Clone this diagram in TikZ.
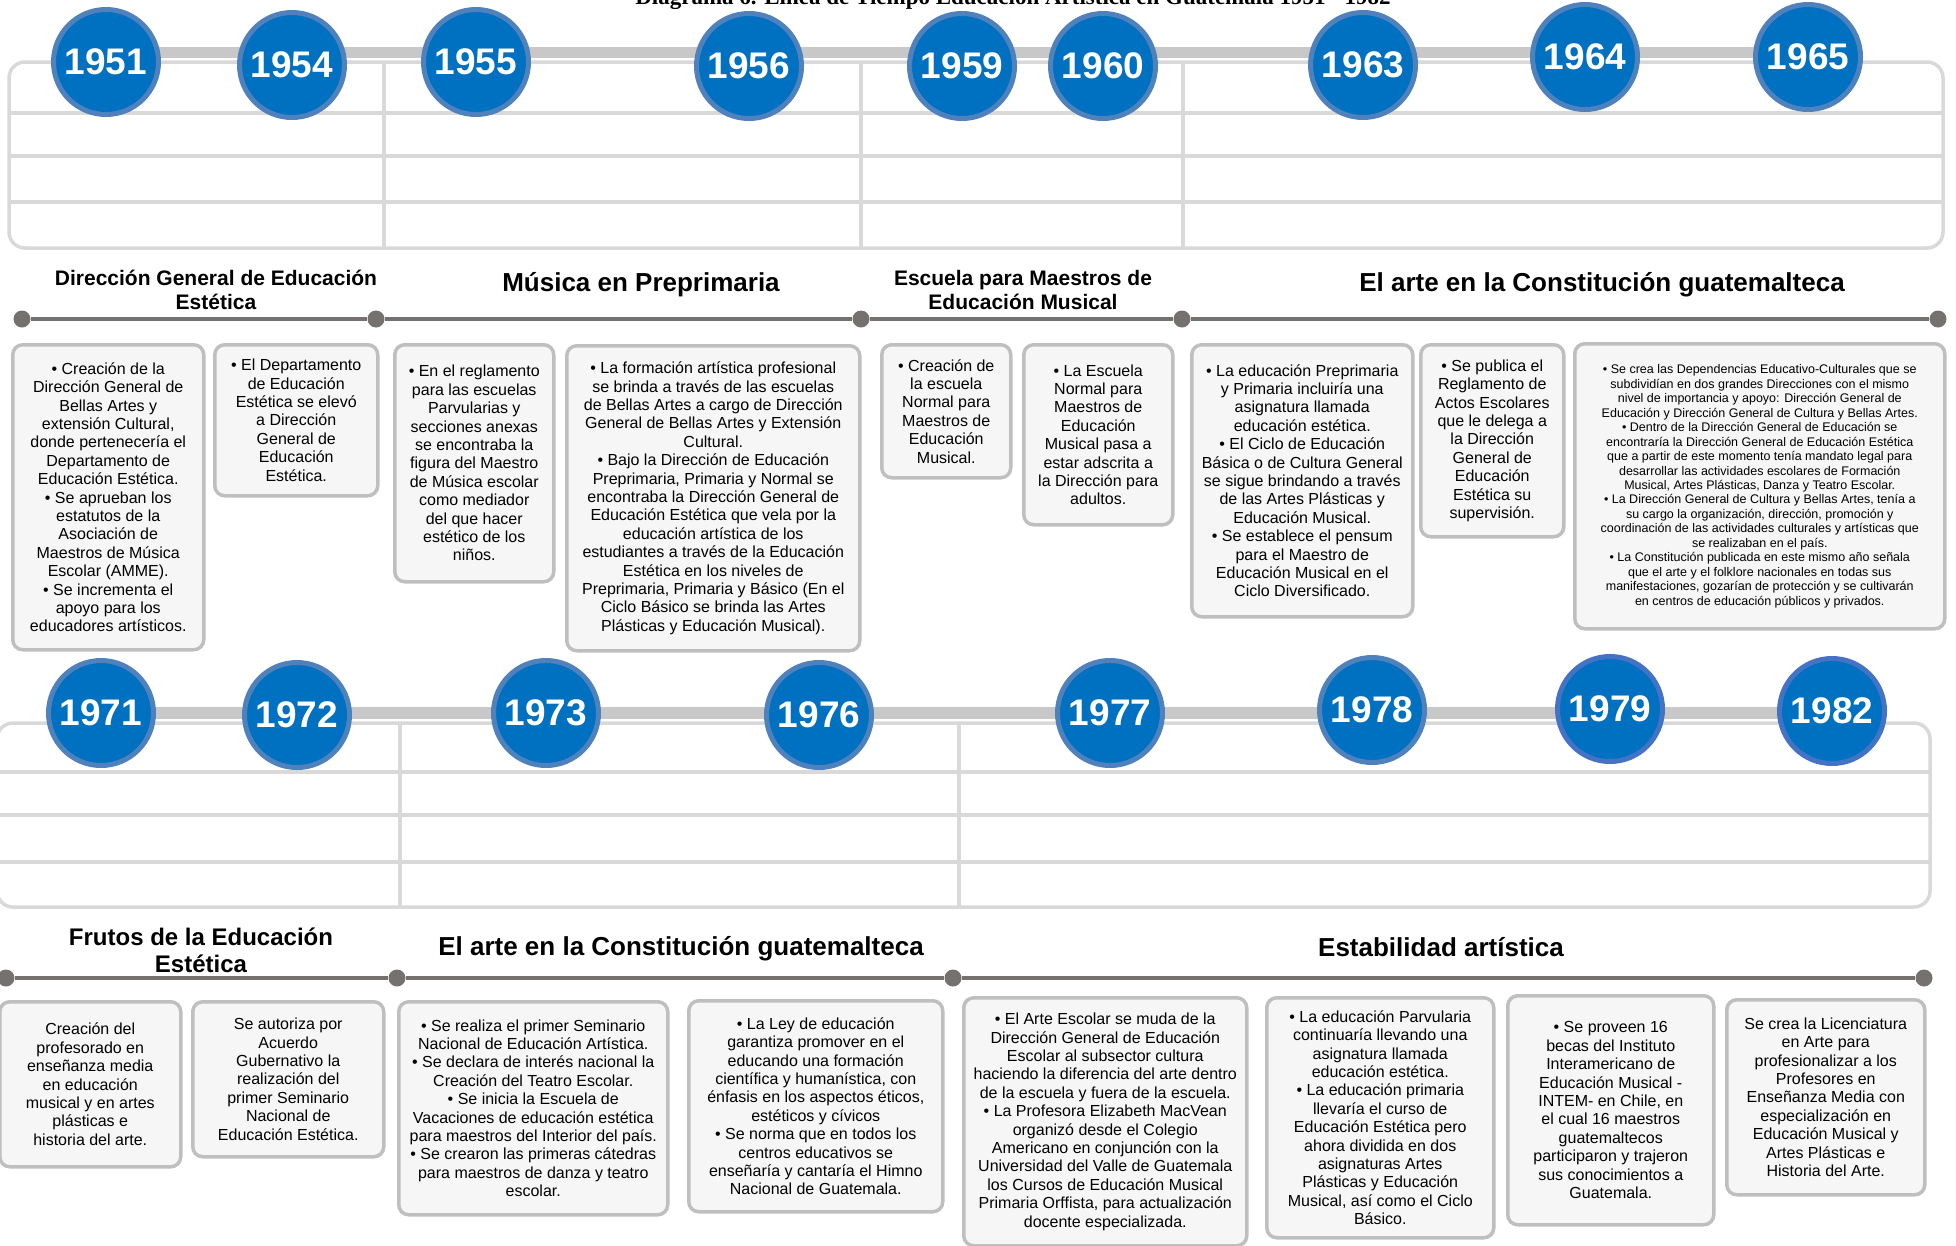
\documentclass[tikz,border=0pt]{standalone}
\usepackage{fontspec}
\setmainfont{Liberation Sans}
\newfontfamily\titlefont{Liberation Serif}
\usetikzlibrary{positioning}
\definecolor{yearblue}{RGB}{0,112,192}
\definecolor{yearrim}{RGB}{79,129,189}
\definecolor{yearrimb}{RGB}{68,114,196}
\definecolor{bargray}{RGB}{200,200,200}
\definecolor{gridgray}{RGB}{217,217,217}
\definecolor{linegray}{RGB}{118,113,113}
\definecolor{cardfill}{RGB}{246,246,246}
\definecolor{cardrim}{RGB}{191,191,191}
\tikzset{
    year/.style={ % Year bubbles
        circle,
        fill=yearblue,
        draw=yearrim,
        line width=5pt,
        minimum size=105pt,
        inner sep=0pt,
        text=white,
        font=\fontsize{37}{40}\selectfont\bfseries
    },
    card/.style={ % Grey boxes with the events
        draw=cardrim,
        fill=cardfill,
        line width=3.5pt,
        rounded corners=10pt,
        align=center,
        anchor=north west,
        inner sep=3pt,
        font=\fontsize{16}{18.4}\selectfont
    },
    head/.style={align=center, font=\fontsize{26}{30}\selectfont\bfseries},
    headtwo/.style={align=center, font=\fontsize{21}{24}\selectfont\bfseries},
    dot/.style={circle, fill=linegray, minimum size=17pt, inner sep=0pt},
    tline/.style={linegray, line width=4pt},
    bar/.style={bargray, line width=11pt},
    grid/.style={gridgray, line width=3.5pt}
}
\begin{document}
\begin{tikzpicture}[x=1pt, y=-1pt]
    \useasboundingbox (0,0) rectangle (1956,1245);

    \node[font=\titlefont\fontsize{23}{26}\selectfont\bfseries, anchor=base] (titulo) at (1013,4)
        {Diagrama 6. Línea de Tiempo Educación Artística en Guatemala 1951 - 1982};

    % grids behind the bubbles
    \draw[grid, rounded corners=16pt] (9,62) rectangle (1943,248);
    \foreach \gy in {113,156,202} \draw[grid] (9,\gy) -- (1943,\gy);
    \foreach \gx in {384,861,1183} \draw[grid] (\gx,62) -- (\gx,248);
    \draw[grid, rounded corners=16pt] (-3,723) rectangle (1930,907);
    \foreach \gy in {772,815,862} \draw[grid] (-3,\gy) -- (1930,\gy);
    \foreach \gx in {400,959} \draw[grid] (\gx,723) -- (\gx,907);

    \coordinate (barAs) at (106,52);
    \coordinate (barAe) at (1808,52);
    \coordinate (barBs) at (101,713);
    \coordinate (barBe) at (1832,713);
    \draw[bar] (barAs) -- (barAe);
    \draw[bar, line width=12pt] (barBs) -- (barBe);

    \foreach \yr/\px/\py in {1951/106/62, 1954/292/65, 1955/476/62, 1956/749/66, 1959/962/66,
        1960/1103/66, 1963/1363/65, 1964/1585/57, 1965/1808/57,
        1971/101/713, 1972/297/715, 1973/546/713, 1976/819/715, 1977/1110/713, 1978/1372/710}
        \node[year] (y\yr) at (\px,\py) {\yr};
    \node[year, draw=yearrimb] (y1979) at (1610,709) {1979};
    \node[year, draw=yearrimb] (y1982) at (1832,711) {1982};

    % first period
    \node[headtwo] (hA) at (216,290) {Dirección General de Educación\\Estética};
    \node[head] (hB) at (641,285) {Música en Preprimaria};
    \node[headtwo] (hC) at (1023,290) {Escuela para Maestros de\\Educación Musical};
    \node[head] (hD) at (1602,285) {El arte en la Constitución guatemalteca};

    \node[dot] (dA1) at (22,319) {};
    \node[dot] (dA2) at (376,319) {};
    \node[dot] (dA3) at (861,319) {};
    \node[dot] (dA4) at (1182,319) {};
    \node[dot] (dA5) at (1938,319) {};
    \draw[tline] (dA1) -- (dA2) -- (dA3) -- (dA4) -- (dA5);

    \node[card, minimum width=191pt, minimum height=305pt] (c1951) at (11,343)
        {• Creación de la\\Dirección General de\\Bellas Artes y\\extensión Cultural,\\donde pertenecería el\\Departamento de\\Educación Estética.\\• Se aprueban los\\estatutos de la\\Asociación de\\Maestros de Música\\Escolar (AMME).\\• Se incrementa el\\apoyo para los\\educadores artísticos.};
    \node[card, minimum width=163pt, minimum height=151pt] (c1954) at (213,343)
        {• El Departamento\\de Educación\\Estética se elevó\\a Dirección\\General de\\Educación\\Estética.};
    \node[card, minimum width=159pt, minimum height=237pt] (c1955) at (393,343)
        {• En el reglamento\\para las escuelas\\Parvularias y\\secciones anexas\\se encontraba la\\figura del Maestro\\de Música escolar\\como mediador\\del que hacer\\estético de los\\niños.};
    \node[card, minimum width=293pt, minimum height=305pt] (c1956) at (565,344)
        {• La formación artística profesional\\se brinda a través de las escuelas\\de Bellas Artes a cargo de Dirección\\General de Bellas Artes y Extensión\\Cultural.\\• Bajo la Dirección de Educación\\Preprimaria, Primaria y Normal se\\encontraba la Dirección General de\\Educación Estética que vela por la\\educación artística de los\\estudiantes a través de la Educación\\Estética en los niveles de\\Preprimaria, Primaria y Básico (En el\\Ciclo Básico se brinda las Artes\\Plásticas y Educación Musical).};
    \node[card, minimum width=129pt, minimum height=133pt] (c1959) at (880,343)
        {• Creación de\\la escuela\\Normal para\\Maestros de\\Educación\\Musical.};
    \node[card, minimum width=149pt, minimum height=180pt] (c1960) at (1022,343)
        {• La Escuela\\Normal para\\Maestros de\\Educación\\Musical pasa a\\estar adscrita a\\la Dirección para\\adultos.};
    \node[card, minimum width=221pt, minimum height=272pt] (c1963) at (1190,343)
        {• La educación Preprimaria\\y Primaria incluiría una\\asignatura llamada\\educación estética.\\• El Ciclo de Educación\\Básica o de Cultura General\\se sigue brindando a través\\de las Artes Plásticas y\\Educación Musical.\\• Se establece el pensum\\para el Maestro de\\Educación Musical en el\\Ciclo Diversificado.};
    \node[card, minimum width=143pt, minimum height=192pt] (c1964) at (1419,343)
        {• Se publica el\\Reglamento de\\Actos Escolares\\que le delega a\\la Dirección\\General de\\Educación\\Estética su\\supervisión.};
    \node[card, minimum width=370pt, minimum height=285pt, font=\fontsize{12.5}{14.45}\selectfont] (c1965) at (1573,342)
        {• Se crea las Dependencias Educativo-Culturales que se\\subdividían en dos grandes Direcciones con el mismo\\nivel de importancia y apoyo: Dirección General de\\Educación y Dirección General de Cultura y Bellas Artes.\\• Dentro de la Dirección General de Educación se\\encontraría la Dirección General de Educación Estética\\que a partir de este momento tenía mandato legal para\\desarrollar las actividades escolares de Formación\\Musical, Artes Plásticas, Danza y Teatro Escolar.\\• La Dirección General de Cultura y Bellas Artes, tenía a\\su cargo la organización, dirección, promoción y\\coordinación de las actividades culturales y artísticas que\\se realizaban en el país.\\• La Constitución publicada en este mismo año señala\\que el arte y el folklore nacionales en todas sus\\manifestaciones, gozarían de protección y se cultivarán\\en centros de educación públicos y privados.};

    % second period
    \node[headtwo, font=\fontsize{24}{27}\selectfont\bfseries] (hE) at (201,950) {Frutos de la Educación\\Estética};
    \node[head] (hF) at (681,949) {El arte en la Constitución guatemalteca};
    \node[head] (hG) at (1441,947) {Estabilidad artística};

    \node[dot] (dB1) at (6,978) {};
    \node[dot] (dB2) at (397,978) {};
    \node[dot] (dB3) at (953,978) {};
    \node[dot] (dB4) at (1924,978) {};
    \draw[tline] (dB1) -- (dB2) -- (dB3) -- (dB4);

    \node[card, minimum width=181pt, minimum height=165pt] (c1971) at (-2,1000)
        {Creación del\\profesorado en\\enseñanza media\\en educación\\musical y en artes\\plásticas e\\historia del arte.};
    \node[card, minimum width=191pt, minimum height=155pt] (c1972) at (191,1000)
        {Se autoriza por\\Acuerdo\\Gubernativo la\\realización del\\primer Seminario\\Nacional de\\Educación Estética.};
    \node[card, minimum width=269pt, minimum height=213pt] (c1973) at (397,1000)
        {• Se realiza el primer Seminario\\Nacional de Educación Artística.\\• Se declara de interés nacional la\\Creación del Teatro Escolar.\\• Se inicia la Escuela de\\Vacaciones de educación estética\\para maestros del Interior del país.\\• Se crearon las primeras cátedras\\para maestros de danza y teatro\\escolar.};
    \node[card, minimum width=254pt, minimum height=211pt] (c1976) at (687,999)
        {• La Ley de educación\\garantiza promover en el\\educando una formación\\científica y humanística, con\\énfasis en los aspectos éticos,\\estéticos y cívicos\\• Se norma que en todos los\\centros educativos se\\enseñaría y cantaría el Himno\\Nacional de Guatemala.};
    \node[card, minimum width=283pt, minimum height=248pt] (c1977) at (962,996)
        {• El Arte Escolar se muda de la\\Dirección General de Educación\\Escolar al subsector cultura\\haciendo la diferencia del arte dentro\\de la escuela y fuera de la escuela.\\• La Profesora Elizabeth MacVean\\organizó desde el Colegio\\Americano en conjunción con la\\Universidad del Valle de Guatemala\\los Cursos de Educación Musical\\Primaria Orffista, para actualización\\docente especializada.};
    \node[card, minimum width=227pt, minimum height=240pt] (c1978) at (1265,996)
        {• La educación Parvularia\\continuaría llevando una\\asignatura llamada\\educación estética.\\• La educación primaria\\llevaría el curso de\\Educación Estética pero\\ahora dividida en dos\\asignaturas Artes\\Plásticas y Educación\\Musical, así como el Ciclo\\Básico.};
    \node[card, minimum width=206pt, minimum height=229pt] (c1979) at (1506,994)
        {• Se proveen 16\\becas del Instituto\\Interamericano de\\Educación Musical -\\INTEM- en Chile, en\\el cual 16 maestros\\guatemaltecos\\participaron y trajeron\\sus conocimientos a\\Guatemala.};
    \node[card, minimum width=198pt, minimum height=195pt] (c1982) at (1725,998)
        {Se crea la Licenciatura\\en Arte para\\profesionalizar a los\\Profesores en\\Enseñanza Media con\\especialización en\\Educación Musical y\\Artes Plásticas e\\Historia del Arte.};
\end{tikzpicture}
\end{document}
